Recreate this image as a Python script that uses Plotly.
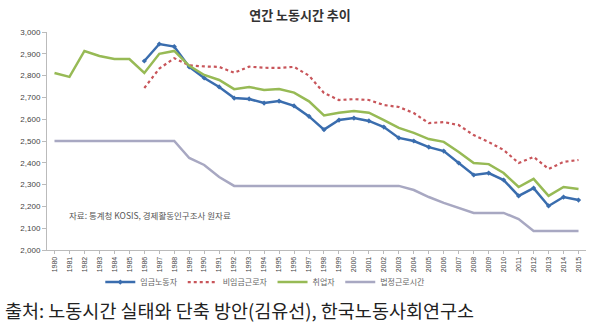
import plotly.graph_objects as go

years = list(range(1980, 2016))
year_labels = [str(y) for y in years]

# 임금노동자 (1986-2015)
wage_years = list(range(1986, 2016))
wage = [2867, 2945, 2933, 2840, 2789, 2748, 2697, 2693, 2674, 2683, 2661, 2613,
        2552, 2596, 2605, 2592, 2564, 2514, 2500, 2472, 2454, 2399, 2344, 2353,
        2321, 2248, 2284, 2202, 2243, 2229]

# 비임금근로자 (1986-2015)
nonwage = [2743, 2832, 2880, 2847, 2842, 2840, 2813, 2841, 2836, 2835, 2840, 2800,
           2720, 2688, 2692, 2688, 2665, 2656, 2628, 2582, 2587, 2573, 2527, 2495,
           2459, 2399, 2427, 2372, 2404, 2413]

# 취업자 (1980-2015)
employed = [2812, 2794, 2913, 2890, 2876, 2876, 2812, 2900, 2913, 2845, 2803, 2780,
            2738, 2748, 2734, 2738, 2722, 2682, 2617, 2630, 2638, 2630, 2596, 2560,
            2537, 2509, 2496, 2450, 2399, 2394, 2353, 2289, 2326, 2248, 2289, 2280]

# 법정근로시간 (1980-2015)
legal = [2500, 2500, 2500, 2500, 2500, 2500, 2500, 2500, 2500, 2422, 2390, 2335,
         2294, 2294, 2294, 2294, 2294, 2294, 2294, 2294, 2294, 2294, 2294, 2294,
         2275, 2243, 2216, 2193, 2170, 2170, 2170, 2142, 2087, 2087, 2087, 2087]

font_kr = "Noto Sans CJK KR"

fig = go.Figure()
fig.add_trace(go.Scatter(x=wage_years, y=wage, name="임금노동자", mode="lines+markers",
                         line=dict(color="#3A6DAE", width=2.5),
                         marker=dict(symbol="diamond", size=4, color="#3A6DAE")))
fig.add_trace(go.Scatter(x=wage_years, y=nonwage, name="비임금근로자", mode="lines",
                         line=dict(color="#C8555A", width=2.2, dash="dot")))
fig.add_trace(go.Scatter(x=years, y=employed, name="취업자", mode="lines",
                         line=dict(color="#97BA55", width=2.5)))
fig.add_trace(go.Scatter(x=years, y=legal, name="법정근로시간", mode="lines",
                         line=dict(color="#A8A8C2", width=2.5)))

fig.update_layout(
    width=600, height=324,
    margin=dict(l=46.5, r=13.5, t=32, b=74),
    paper_bgcolor="white", plot_bgcolor="white",
    font=dict(family=font_kr, color="#444"),
    title=dict(text="<b>연간 노동시간 추이</b>", x=0.5, xref="container", xanchor="center",
               y=1 - 15 / 324, yanchor="middle",
               font=dict(size=13, color="#333", family=font_kr)),
    showlegend=True,
    legend=dict(orientation="h", x=0.405, xanchor="center", y=-0.147, yanchor="middle",
                font=dict(size=8, color="#666", family=font_kr),
                itemwidth=30, tracegroupgap=0, bgcolor="rgba(0,0,0,0)"),
    xaxis=dict(range=[1979.5, 2015.5], tickmode="array", tickvals=years, ticktext=year_labels,
               tickangle=-90, tickfont=dict(size=7, color="#444", family="Liberation Sans"),
               showgrid=False, zeroline=False, showline=True, linecolor="#BBBBBB", linewidth=1,
               ticks="outside", ticklen=3, tickcolor="#BBBBBB"),
    yaxis=dict(range=[2000, 3000], tickvals=list(range(2000, 3001, 100)), tickformat=",",
               tickfont=dict(size=8, color="#444", family="Liberation Sans"),
               showgrid=False, zeroline=False, showline=True, linecolor="#BBBBBB", linewidth=1,
               ticks="outside", ticklen=4, tickcolor="#BBBBBB"),
)

fig.add_annotation(text="자료: 통계청 KOSIS, 경제활동인구조사 원자료", xref="paper", yref="paper",
                   x=0.038, y=0.16, xanchor="left", yanchor="middle", showarrow=False,
                   font=dict(size=8.5, color="#555", family=font_kr))
fig.add_annotation(text="출처: 노동시간 실태와 단축 방안(김유선), 한국노동사회연구소", xref="paper", yref="paper",
                   x=(2 - 46.5) / 540, y=(250 - 309.5) / 218, xanchor="left", yanchor="middle",
                   showarrow=False, font=dict(size=18.5, color="#222", family=font_kr))

fig.write_html("out.html")
